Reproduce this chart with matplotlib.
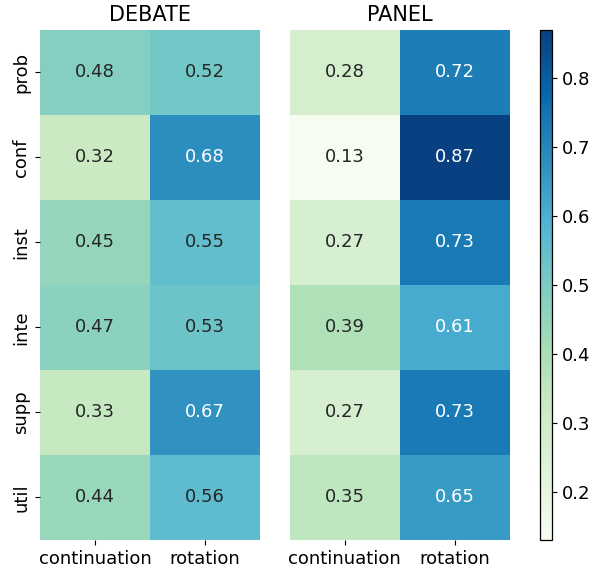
import matplotlib
matplotlib.use("Agg")
import matplotlib.pyplot as plt
import numpy as np

rows = ["prob", "conf", "inst", "inte", "supp", "util"]
cols = ["continuation", "rotation"]

debate_cont = [0.48, 0.32, 0.45, 0.47, 0.33, 0.44]
debate_rot = [0.52, 0.68, 0.55, 0.53, 0.67, 0.56]
panel_cont = [0.28, 0.13, 0.27, 0.39, 0.27, 0.35]
panel_rot = [0.72, 0.87, 0.73, 0.61, 0.73, 0.65]

debate = np.column_stack([debate_cont, debate_rot])
panel = np.column_stack([panel_cont, panel_rot])
vmin = min(debate.min(), panel.min())
vmax = max(debate.max(), panel.max())
cmap = plt.get_cmap("GnBu")
norm = matplotlib.colors.Normalize(vmin, vmax)


def luminance(rgb):
    # same rule as seaborn uses to choose annotation colour
    c = np.array(rgb[:3])
    c = np.where(c <= 0.03928, c / 12.92, ((c + 0.055) / 1.055) ** 2.4)
    return 0.2126 * c[0] + 0.7152 * c[1] + 0.0722 * c[2]


def draw_heat(ax, data, title, ylabels):
    mesh = ax.pcolormesh(data, cmap=cmap, norm=norm)
    ax.set_xlim(0, data.shape[1])
    ax.set_ylim(data.shape[0], 0)
    for i in range(data.shape[0]):
        for j in range(data.shape[1]):
            col = cmap(norm(data[i, j]))
            tc = ".15" if luminance(col) > 0.408 else "white"
            ax.text(j + 0.5, i + 0.5, "%.2f" % data[i, j], ha="center", va="center",
                    fontsize=13, color=tc)
    ax.set_xticks(np.arange(data.shape[1]) + 0.5)
    ax.set_xticklabels(cols, fontsize=13)
    if ylabels:
        ax.set_yticks(np.arange(data.shape[0]) + 0.5)
        ax.set_yticklabels(rows, fontsize=13, rotation=90, va="center")
    else:
        ax.set_yticks([])
    for s in ax.spines.values():
        s.set_visible(False)
    ax.set_title(title, fontsize=15)
    return mesh


fig = plt.figure(figsize=(5.95, 5.72), dpi=100)
ax1 = fig.add_axes([0.067, 0.056, 0.37, 0.892])
ax2 = fig.add_axes([0.487, 0.056, 0.37, 0.892])
cax = fig.add_axes([0.908, 0.056, 0.02, 0.892])

draw_heat(ax1, debate, "DEBATE", True)
mesh = draw_heat(ax2, panel, "PANEL", False)
cbar = fig.colorbar(mesh, cax=cax)
cbar.ax.tick_params(labelsize=13)
cbar.outline.set_linewidth(0.9)

fig.savefig("out.png", dpi=100)
